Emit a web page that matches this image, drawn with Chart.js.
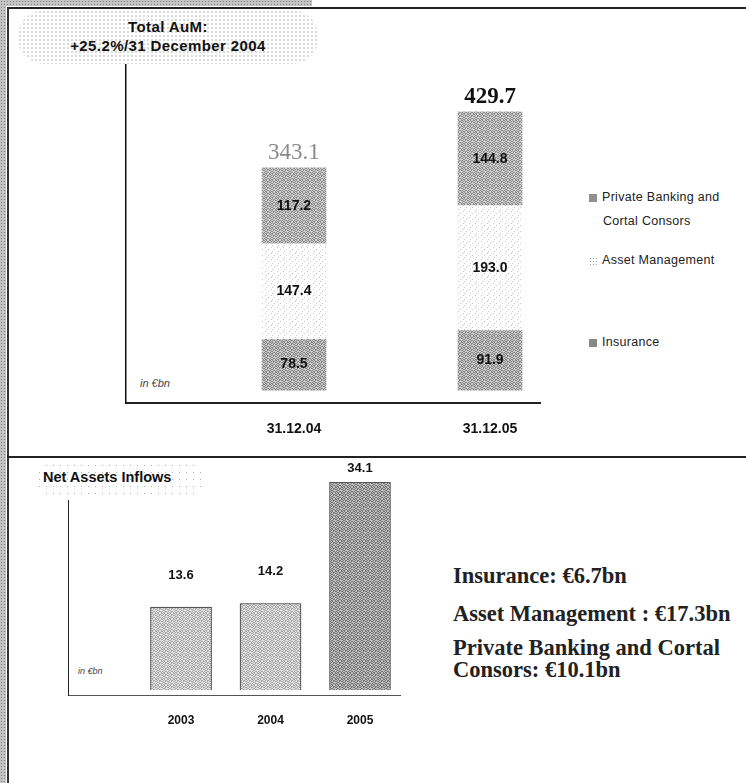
<!DOCTYPE html>
<html>
<head>
<meta charset="utf-8">
<script src="https://cdn.jsdelivr.net/npm/chart.js@4.4.1/dist/chart.umd.min.js"></script>
<style>
  body { margin:0; width:746px; height:783px; background:#fff; position:relative; overflow:hidden;
         font-family:"Liberation Sans", Arial, sans-serif; color:#111; }
  .abs { position:absolute; }
  .strip { background:#c4c4c4 radial-gradient(#7d7d7d 0.6px, transparent 0.9px) 0 0/3px 3px; }
  .bubble { border-radius:26px; background:#fff radial-gradient(#b0b0b0 0.55px, transparent 0.85px) 0 0/4px 4px; }
  .bubble div { text-align:center; font-weight:bold; font-size:15px; letter-spacing:0.4px; }
  .leg { font-size:12.5px; letter-spacing:0.3px; color:#222; white-space:nowrap; line-height:16px; }
  .mk { display:inline-block; width:8px; height:8px; margin-right:5px; vertical-align:-1px; }
  .side { font-family:"Liberation Serif", "Times New Roman", serif; font-weight:bold; font-size:22.5px;
          color:#222; white-space:nowrap; line-height:22px; }
  canvas { position:absolute; }
</style>
</head>
<body>
<div class="abs strip" style="left:0;top:0;width:6px;height:783px"></div>
<div class="abs strip" style="left:0;top:0;width:312px;height:6px"></div>
<div class="abs" style="left:7px;top:7px;width:739px;height:2px;background:#222"></div>
<div class="abs" style="left:7px;top:7px;width:2px;height:776px;background:#333"></div>
<div class="abs" style="left:7px;top:456px;width:739px;height:2px;background:#222"></div>

<div class="abs bubble" style="left:18px;top:10px;width:300px;height:54px">
  <div style="margin-top:8px">Total AuM:</div>
  <div style="margin-top:2px">+25.2%/31 December 2004</div>
</div>

<div class="abs" style="left:140px;top:377px;font-style:italic;font-size:11px;color:#444">in €bn</div>

<div class="abs leg" style="left:589px;top:189px">
  <span class="mk" style="background:#bbb radial-gradient(#777 0.6px, transparent 0.9px) 0 0/2px 2px"></span>Private Banking and<br>
  <span style="margin-left:14px;line-height:32px">Cortal Consors</span>
</div>
<div class="abs leg" style="left:589px;top:252px">
  <span class="mk" style="background:#fff radial-gradient(#999 0.6px, transparent 0.9px) 0 0/3px 3px"></span>Asset Management
</div>
<div class="abs leg" style="left:589px;top:334px">
  <span class="mk" style="background:#b4b4b4 radial-gradient(#707070 0.6px, transparent 0.9px) 0 0/2px 2px"></span>Insurance
</div>

<div class="abs bubble" style="left:36px;top:462px;width:170px;height:36px;background-size:7px 7px"></div>
<div class="abs" style="left:43px;top:469px;font-weight:bold;font-size:14.5px">Net Assets Inflows</div>
<div class="abs" style="left:78px;top:666px;font-style:italic;font-size:9px;color:#444">in €bn</div>

<div class="abs side" style="left:453px;top:565px">Insurance: €6.7bn</div>
<div class="abs side" style="left:453px;top:603px">Asset Management : €17.3bn</div>
<div class="abs side" style="left:453px;top:637px">Private Banking and Cortal<br>Consors: €10.1bn</div>

<canvas id="aum" width="746" height="456" style="left:0;top:0;width:746px;height:456px"></canvas>
<canvas id="inflows" width="746" height="326" style="left:0;top:457px;width:746px;height:326px"></canvas>

<script>
// ---- data ----
const aumDates = ["31.12.04", "31.12.05"];
const insurance = [78.5, 91.9];
const assetMgmt = [147.4, 193.0];
const privateBanking = [117.2, 144.8];

const inflowYears = ["2003", "2004", "2005"];
const inflows = [13.6, 14.2, 34.1];

// ---- stipple patterns ----
function stipple(base, dot, cells, size) {
  const c = document.createElement("canvas");
  c.width = size; c.height = size;
  const g = c.getContext("2d");
  g.fillStyle = base;
  g.fillRect(0, 0, size, size);
  g.fillStyle = dot;
  cells.forEach(([x, y]) => g.fillRect(x, y, 1, 1));
  return g.createPattern(c, "repeat");
}
const dense = [[0,0],[2,0],[1,1],[3,1],[0,2],[3,2],[1,3],[2,3],[5,0],[4,1],[5,2],[4,4],[0,4],[2,5],[5,5],[1,5],[3,4]];
const sparse = [[1,1],[4,3],[2,5]];

const fillIns = stipple("#cbcbcb", "#858585", dense, 6);
const fillPB = stipple("#cfcfcf", "#8c8c8c", dense, 6);
const fillAM = stipple("#ffffff", "#c8c8c8", sparse, 6);
const fillLight = stipple("#e0e0e0", "#a8a8a8", dense, 6);
const fillDark = stipple("#bdbdbd", "#767676", dense, 6);

// ---- labels on bars ----
const barLabels = {
  id: "barLabels",
  afterDatasetsDraw(chart, args, opts) {
    const ctx = chart.ctx;
    ctx.save();
    ctx.textAlign = "center";
    ctx.textBaseline = "middle";
    const last = chart.data.datasets.length - 1;
    chart.data.datasets.forEach((ds, di) => {
      chart.getDatasetMeta(di).data.forEach((bar, i) => {
        const v = ds.data[i].y;
        if (opts.inside) {
          ctx.font = "bold 14px 'Liberation Sans', Arial";
          ctx.fillStyle = "#111";
          ctx.fillText(v.toFixed(1), bar.x, (bar.y + bar.base) / 2);
        } else {
          ctx.font = "bold 13px 'Liberation Sans', Arial";
          ctx.fillStyle = "#111";
          ctx.fillText(v.toFixed(1), bar.x, bar.y - opts.offsets[i]);
        }
        if (opts.totals && di === last) {
          const total = chart.data.datasets.reduce((s, d) => s + d.data[i].y, 0);
          ctx.font = i === 0 ? "23px 'Liberation Serif', serif" : "bold 23px 'Liberation Serif', serif";
          ctx.fillStyle = i === 0 ? "#8a8a8a" : "#111";
          ctx.fillText(total.toFixed(1), bar.x, bar.y - 15);
        }
      });
    });
    ctx.restore();
  }
};

Chart.defaults.font.family = "'Liberation Sans', Arial, sans-serif";
Chart.defaults.animation = false;

function points(values) {
  return values.map((y, i) => ({ x: i + 1, y }));
}

new Chart(document.getElementById("aum"), {
  type: "bar",
  data: {
    datasets: [
      { label: "Insurance", data: points(insurance), backgroundColor: fillIns },
      { label: "Asset Management", data: points(assetMgmt), backgroundColor: fillAM },
      { label: "Private Banking and Cortal Consors", data: points(privateBanking), backgroundColor: fillPB },
    ],
  },
  options: {
    responsive: false,
    barThickness: 64,
    layout: { padding: { left: 126, right: 206, top: 65, bottom: 13 } },
    plugins: { legend: { display: false }, tooltip: { enabled: false },
               barLabels: { inside: true, totals: true } },
    scales: {
      x: {
        type: "linear", stacked: true, min: 0.143, max: 2.255, offset: false,
        grid: { display: false },
        border: { color: "#222", width: 2, dash: [10, 3] },
        afterBuildTicks: (s) => { s.ticks = aumDates.map((_, i) => ({ value: i + 1 })); },
        afterFit: (s) => { s.height = 40; },
        ticks: { callback: (v) => aumDates[v - 1], padding: 10,
                 font: { size: 14, weight: "bold" }, color: "#111", maxRotation: 0 },
      },
      y: {
        stacked: true, min: -20, max: 502,
        grid: { display: false },
        ticks: { display: false },
        border: { color: "#111", width: 1.5 },
        afterFit: (s) => { s.width = 0; },
      },
    },
  },
  plugins: [barLabels],
});

new Chart(document.getElementById("inflows"), {
  type: "bar",
  data: {
    datasets: [
      { label: "Net Assets Inflows", data: points(inflows),
        backgroundColor: [fillLight, fillLight, fillDark],
        borderColor: ["#333", "#333", "#555"], borderWidth: 1, clip: false },
    ],
  },
  options: {
    responsive: false,
    barThickness: 61,
    layout: { padding: { left: 68, right: 346, top: 43, bottom: 48 } },
    plugins: { legend: { display: false }, tooltip: { enabled: false },
               barLabels: { inside: false, offsets: [32, 32, 14] } },
    scales: {
      x: {
        type: "linear", min: -0.263, max: 3.447, offset: false,
        grid: { display: false },
        border: { color: "#555", width: 1, dash: [2, 1] },
        afterBuildTicks: (s) => { s.ticks = inflowYears.map((_, i) => ({ value: i + 1 })); },
        afterFit: (s) => { s.height = 40; },
        ticks: { callback: (v) => inflowYears[v - 1], padding: 10,
                 font: { size: 12, weight: "bold" }, color: "#111", maxRotation: 0 },
      },
      y: {
        min: -0.82, max: 31.2,
        grid: { display: false },
        ticks: { display: false },
        border: { color: "#222", width: 1 },
        afterFit: (s) => { s.width = 0; },
      },
    },
  },
  plugins: [barLabels],
});
</script>
</body>
</html>
